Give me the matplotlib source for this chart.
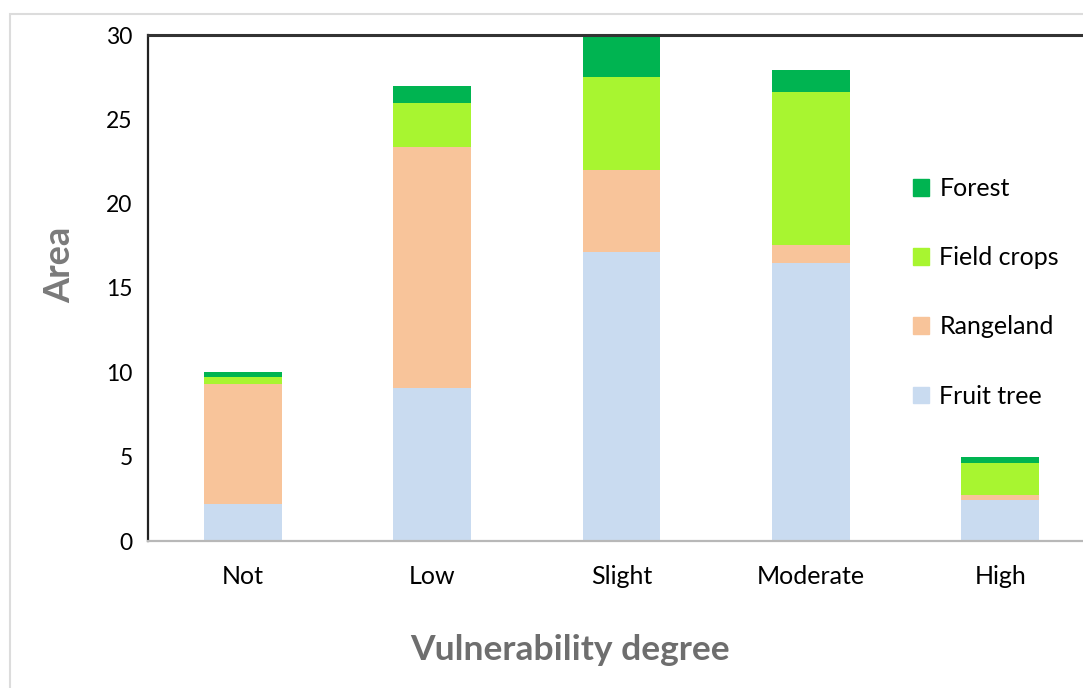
import numpy as np
import matplotlib
matplotlib.use("Agg")
import matplotlib.pyplot as plt
from matplotlib.patches import Patch, Rectangle

plt.rcParams['font.family'] = ['Lato', 'DejaVu Sans']

# values (area per vulnerability class)
degrees = ["Not", "Low", "Slight", "Moderate", "High"]
fruit_tree = [2.2, 9.1, 17.15, 16.5, 2.45]
rangeland = [7.1, 14.25, 4.85, 1.05, 0.25]
field_crops = [0.4, 2.6, 5.5, 9.1, 1.9]
forest = [0.3, 1.0, 2.6, 1.25, 0.4]

series = [("Fruit tree", fruit_tree, "#c9dbf0"),
          ("Rangeland", rangeland, "#f8c49a"),
          ("Field crops", field_crops, "#a8f530"),
          ("Forest", forest, "#00b451")]

W, H = 1083, 688
fig = plt.figure(figsize=(W / 100, H / 100), dpi=100)
# plot area runs past the right edge, as in the cropped reference
ax = fig.add_axes([148 / W, (H - 541) / H, (1095 - 148) / W, (541 - 35) / H])

x = np.arange(len(degrees))
bottom = np.zeros(len(degrees))
for name, vals, color in series:
    vals = np.array(vals)
    ax.bar(x, vals, width=0.41, bottom=bottom, color=color, label=name,
           edgecolor="none")
    bottom += vals

ax.set_xlim(-0.5, len(degrees) - 0.5)
ax.set_ylim(0, 30)
ax.set_yticks(range(0, 31, 5))
ax.set_xticks(x)
ax.set_xticklabels(degrees)
ax.tick_params(axis="both", length=0, colors="black")
ax.tick_params(axis="y", pad=11, labelsize=16.5)
ax.tick_params(axis="x", pad=17, labelsize=18)

ax.spines["right"].set_visible(False)
ax.spines["left"].set_color("#222222")
ax.spines["left"].set_linewidth(1.6)
ax.spines["top"].set_color("#333333")
ax.spines["top"].set_linewidth(2.2)
ax.spines["bottom"].set_color("#b8b8b8")
ax.spines["bottom"].set_linewidth(1.6)

fig.text(60 / W, 1 - 265 / H, "Area", rotation=90, ha="center", va="center",
         fontsize=26, fontweight="bold", color="#7a7a7a")
fig.text(570 / W, 1 - 660 / H, "Vulnerability degree", ha="center",
         va="baseline", fontsize=25.5, fontweight="bold", color="#6e6e6e")

handles = [Patch(color=c, label=n) for n, _, c in series[::-1]]
fig.legend(handles=handles, loc="upper left",
           bbox_to_anchor=(913 / W, 1 - 177 / H), frameon=False,
           fontsize=18, labelspacing=1.85, handlelength=0.65,
           handleheight=0.65, handletextpad=0.4, borderpad=0,
           borderaxespad=0)

# light chart-area border, cropped on the right and bottom
fig.add_artist(Rectangle((10 / W, -0.1), 2, 1 - 14 / H + 0.1,
                         transform=fig.transFigure, fill=False,
                         edgecolor="#dcdcdc", linewidth=1.5))

fig.savefig("out.png", dpi=100)
